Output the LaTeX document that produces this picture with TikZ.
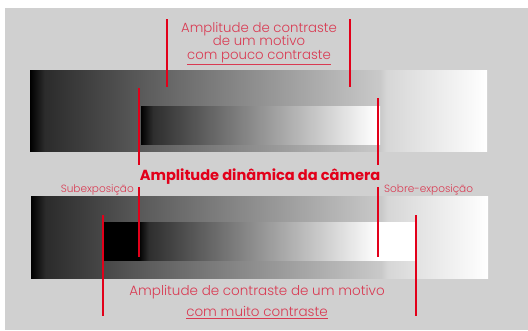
\documentclass[tikz,border=0pt]{standalone}
\usepackage{fontspec}
\setmainfont{Poppins}[UprightFont={* Light},BoldFont={* Bold}]
\usepackage{xcolor}
\usetikzlibrary{positioning}

\definecolor{bggray}{HTML}{D0D0D0}
\definecolor{camred}{HTML}{E2001A}
\definecolor{labred}{HTML}{D93A52}

% shadings: the path spans 25bp..75bp
\pgfdeclarehorizontalshading{outerbar}{100bp}{color(0bp)=(black); color(25bp)=(black);
  color(26.6bp)=(black!83); color(37bp)=(black!65); color(63.3bp)=(black!21);
  color(64bp)=(black!16); color(75bp)=(white); color(100bp)=(white)}
\pgfdeclarehorizontalshading{innerup}{100bp}{color(0bp)=(black); color(25bp)=(black);
  color(27.5bp)=(black!82); color(74bp)=(white); color(100bp)=(white)}
\pgfdeclarehorizontalshading{innerlow}{100bp}{color(0bp)=(black); color(30.6bp)=(black);
  color(32.2bp)=(black!82); color(69bp)=(white); color(100bp)=(white)}

\begin{document}
\begin{tikzpicture}[x=1pt, y=-1pt,
  bar/.style={inner sep=0pt, outer sep=0pt, anchor=north west},
  redline/.style={draw=camred, line width=2pt},
  lab/.style={text=labred, inner sep=0pt, align=center, font=\fontsize{13.3}{13.5}\selectfont},
  side/.style={text=labred, inner sep=0pt, font=\fontsize{10.5}{12}\selectfont},
  title/.style={text=camred, inner sep=0pt, font=\bfseries\fontsize{14.6}{15}\selectfont}
]
\useasboundingbox (0,0) rectangle (528,330);
\fill[bggray] (5,8) rectangle (528,330);

% bars
\node[bar, shading=outerbar, minimum width=457pt, minimum height=81pt] (upper) at (30,70) {};
\node[bar, shading=innerup, minimum width=239pt, minimum height=38pt] (upperin) at (141,106) {};
\node[bar, shading=outerbar, minimum width=457pt, minimum height=82pt] (lower) at (31,196) {};
\node[bar, shading=innerlow, minimum width=311pt, minimum height=38pt] (lowerin) at (104,222) {};

% labels
\node[lab, anchor=north] (few) at (259,22) {Amplitude de contraste\\de um motivo\\\underline{com pouco contraste}};
\node[title, anchor=base] (cam) at (260,180) {Amplitude dinâmica da câmera};
\node[side, anchor=base east] (sub) at (134,192) {Subexposição};
\node[side, anchor=base west] (sobre) at (384,192) {Sobre-exposição};
\node[lab, anchor=north, font=\fontsize{13.5}{21}\selectfont] (many) at (257,285) {Amplitude de contraste de um motivo\\\underline{com muito contraste}};

% marker lines
\coordinate (fewL1) at (167,19);  \coordinate (fewL2) at (167,87);
\coordinate (fewR1) at (350,19);  \coordinate (fewR2) at (350,87);
\coordinate (camL1) at (139,88);  \coordinate (camL2) at (139,165);
\coordinate (camL3) at (139,187); \coordinate (camL4) at (139,257);
\coordinate (camR1) at (378,98);  \coordinate (camR2) at (378,165);
\coordinate (camR3) at (378,187); \coordinate (camR4) at (378,257);
\coordinate (manyL1) at (103,215); \coordinate (manyL2) at (103,316);
\coordinate (manyR1) at (416,215); \coordinate (manyR2) at (416,316);

\draw[redline] (fewL1) -- (fewL2);
\draw[redline] (fewR1) -- (fewR2);
\draw[redline] (camL1) -- (camL2);
\draw[redline] (camL3) -- (camL4);
\draw[redline] (camR1) -- (camR2);
\draw[redline] (camR3) -- (camR4);
\draw[redline] (manyL1) -- (manyL2);
\draw[redline] (manyR1) -- (manyR2);
\end{tikzpicture}
\end{document}
